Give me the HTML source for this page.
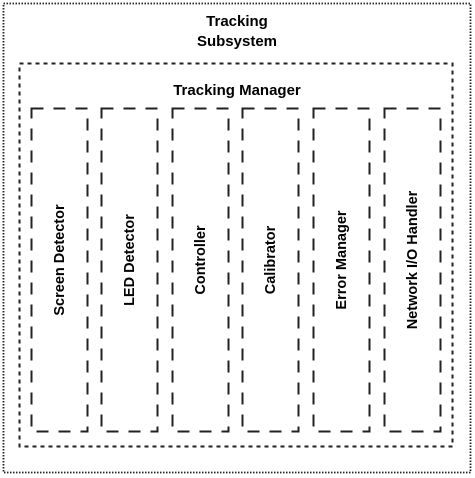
<!DOCTYPE html>
<html><head><meta charset="utf-8"><style>body{margin:0;background:#fff}svg{display:block}</style></head>
<body>
<svg width="475" height="478" xmlns="http://www.w3.org/2000/svg" font-family="Liberation Sans, sans-serif" font-weight="bold">
<rect x="3.5" y="3.5" width="467" height="469" fill="#fff" stroke="#222" stroke-width="1.8" stroke-dasharray="1.5,1.5"/>
<rect x="19.5" y="63.5" width="433" height="383" fill="none" stroke="#222" stroke-width="2" stroke-dasharray="4,4"/>
<text x="237" y="26" font-size="15" text-anchor="middle" fill="#000">Tracking</text>
<text x="237" y="46" font-size="15" text-anchor="middle" fill="#000">Subsystem</text>
<text x="237" y="95" font-size="15" text-anchor="middle" fill="#000">Tracking Manager</text>
<g fill="none" stroke="#222" stroke-width="2" stroke-dasharray="12,10">
<rect x="31.5" y="108.5" width="56" height="323"/>
<rect x="101.5" y="108.5" width="56" height="323"/>
<rect x="172.5" y="108.5" width="56" height="323"/>
<rect x="242.5" y="108.5" width="56" height="323"/>
<rect x="313.5" y="108.5" width="56" height="323"/>
<rect x="384.5" y="108.5" width="56" height="323"/>
</g>
<g font-size="14.5" text-anchor="middle" fill="#000">
<text transform="translate(64,260) rotate(-90)">Screen Detector</text>
<text transform="translate(134,260) rotate(-90)">LED Detector</text>
<text transform="translate(205,260) rotate(-90)">Controller</text>
<text transform="translate(275,260) rotate(-90)">Calibrator</text>
<text transform="translate(346,260) rotate(-90)">Error Manager</text>
<text transform="translate(417,260) rotate(-90)">Network I/O Handler</text>
</g>
</svg>
</body></html>
